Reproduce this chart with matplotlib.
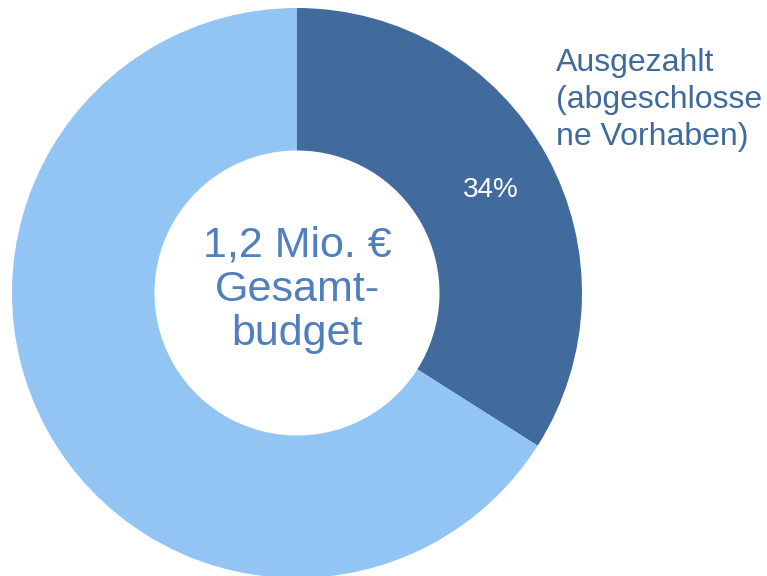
import matplotlib.pyplot as plt

plt.rcParams['font.family'] = ['Liberation Sans', 'DejaVu Sans']

# Daten
kategorien = ['Ausgezahlt\n(abgeschlosse\nne Vorhaben)', 'Rest']
anteile = [34, 66]
farben = ['#416B9C', '#92C5F4']
mitte_text = '1,2 Mio. €\nGesamt-\nbudget'

fig = plt.figure(figsize=(7.67, 5.76), dpi=100)
# Kreis: Mitte (297, 293) px, Radius 285 px
ax = fig.add_axes([12/767, -2/576, 570/767, 570/576])

wedges, _ = ax.pie(anteile, colors=farben, startangle=90, counterclock=False,
                   radius=1, wedgeprops=dict(width=0.5, linewidth=0))
ax.set_xlim(-1, 1)
ax.set_ylim(-1, 1)
ax.set_aspect('equal')
ax.axis('off')

# Prozentwert im dunklen Segment
ax.text(0.681, 0.362, f'{anteile[0]}%', color='white', fontsize=20,
        ha='center', va='center')

# Beschriftung rechts
ax.text(0.909, 0.678, kategorien[0], color='#3F6A9C', fontsize=23,
        ha='left', va='center', linespacing=1.3, clip_on=False)

# Text in der Mitte
ax.text(0.0, 0.01, mitte_text, color='#4F7FBF', fontsize=31,
        ha='center', va='center', linespacing=1.14)

fig.savefig('out.png', dpi=100)
